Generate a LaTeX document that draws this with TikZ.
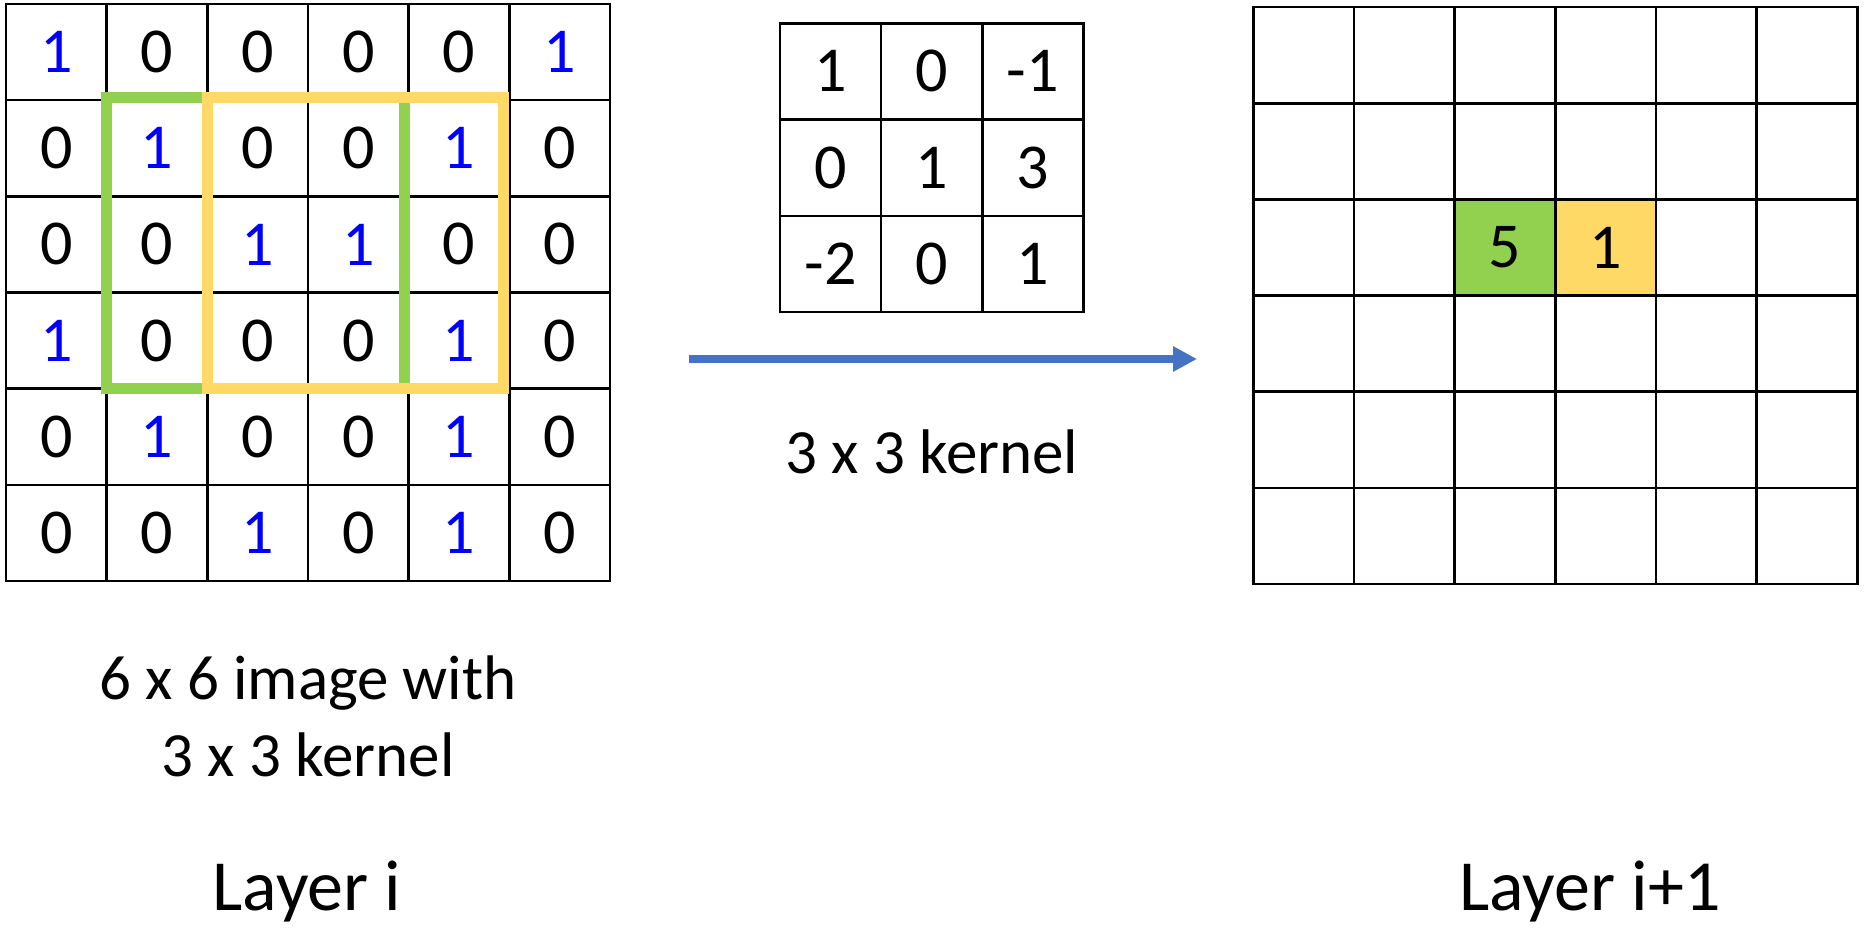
\documentclass[tikz,border=0pt]{standalone}
\usepackage{fontspec}
\setmainfont{Carlito}
\usepackage{tikz}
\usetikzlibrary{arrows.meta,positioning}
\definecolor{onecolor}{HTML}{0000FF}
\definecolor{wingreen}{HTML}{92D050}
\definecolor{winyellow}{HTML}{FFD966}
\definecolor{arrowblue}{HTML}{4472C4}

\begin{document}
\begin{tikzpicture}[
  x=1pt, y=-1pt,
  cell/.style={draw=black, line width=2.4pt, inner sep=0pt, outer sep=0pt,
    minimum width=100.67pt, minimum height=96.17pt, font=\fontsize{64}{70}\selectfont},
  kercell/.style={cell, minimum width=101.2pt, minimum height=96.2pt},
  val0/.style={text=black},
  val1/.style={text=onecolor},
  window/.style={line width=11pt},
  caption/.style={anchor=base, align=center, font=\fontsize{63}{77}\selectfont},
  layer/.style={anchor=base, font=\fontsize{72}{80}\selectfont},
]
\useasboundingbox (0,0) rectangle (1864,927);

% Layer i: 6 x 6 input
\foreach \row [count=\r] in {{1,0,0,0,0,1},{0,1,0,0,1,0},{0,0,1,1,0,0},{1,0,0,0,1,0},{0,1,0,0,1,0},{0,0,1,0,1,0}}
  \foreach \v [count=\c] in \row
    \node[cell, val\v] (img-\r-\c) at ({6+(\c-0.5)*100.67}, {4+(\r-0.5)*96.17}) {\v};

% Kernel windows
\draw[window, wingreen] ([yshift=2.5pt]img-2-2.north west) rectangle ([xshift=-4.5pt]img-4-4.south east);
\draw[window, winyellow] ([yshift=2.5pt]img-2-3.north west) rectangle ([xshift=-6pt]img-4-5.south east);

% 3 x 3 kernel
\foreach \row [count=\r] in {{1,0,-1},{0,1,3},{-2,0,1}}
  \foreach \v [count=\c] in \row
    \node[kercell] (ker-\r-\c) at ({780+(\c-0.5)*101.2}, {23.3+(\r-0.5)*96.2}) {\v};

% Layer i+1: output
\foreach \r in {1,...,6}
  \foreach \c in {1,...,6}
    \node[cell] (out-\r-\c) at ({1253.3+(\c-0.5)*100.67}, {7.3+(\r-0.5)*96.1}) {};
\node[cell, fill=wingreen] (res-green) at (out-3-3) {5};
\node[cell, fill=winyellow] (res-yellow) at (out-3-4) {1};

% Arrow
\coordinate (arr-tail) at (689,359);
\coordinate (arr-tip) at (1197,359);
\draw[arrowblue, line width=8pt, -{Triangle[length=24pt,width=24pt]}] (arr-tail) -- (arr-tip);

% Labels
\node[caption] (ker-label) at (932,473.3) {3 x 3 kernel};
\node[caption] (img-label) at (308,776.7) {6 x 6 image with\\3 x 3 kernel};
\node[layer] (layer-in) at (307,910) {Layer i};
\node[layer] (layer-out) at (1590,910) {Layer i+1};

\end{tikzpicture}
\end{document}
